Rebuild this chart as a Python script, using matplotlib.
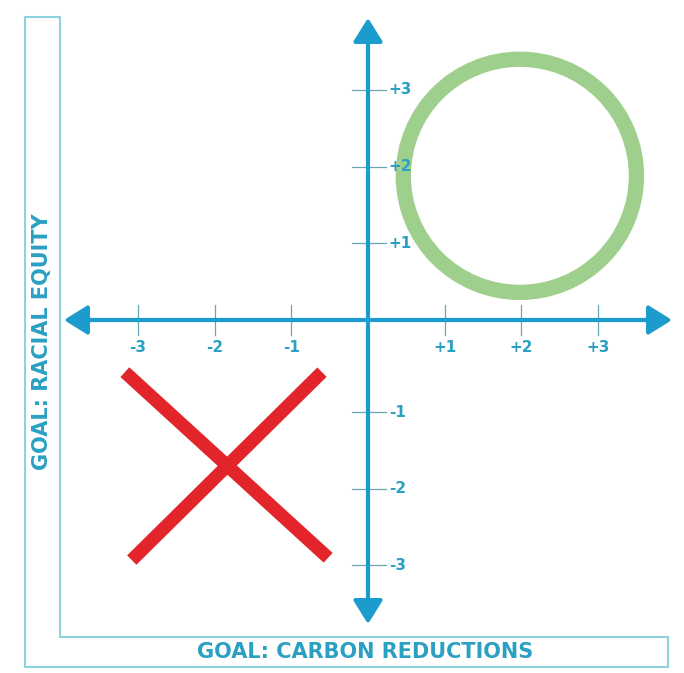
import matplotlib.pyplot as plt
from matplotlib.lines import Line2D

# values (axis units)
xtick_pos = [-3, -2, -1, 1, 2, 3]
xtick_labels = ["-3", "-2", "-1", "+1", "+2", "+3"]
ytick_pos = [3, 2, 1, -1.2, -2.2, -3.2]
ytick_labels = ["+3", "+2", "+1", "-1", "-2", "-3"]

circle_center = (1.98, 1.88)
circle_radius = 1.52

cross_a_x = [-3.17, -0.52]
cross_a_y = [-0.68, -3.1]
cross_b_x = [-0.6, -3.08]
cross_b_y = [-0.68, -3.13]

x_title = "GOAL: CARBON REDUCTIONS"
y_title = "GOAL: RACIAL EQUITY"

W, H = 684, 673
unit = 76.7          # pixels per unit
ox, oy = 368, 320    # origin in pixels

blue = "#1b9ccc"
text_col = "#2aa0c2"
frame_col = "#8dd2df"
tick_col = "#6aa6b4"
red = "#e2252b"
green = "#9fcf8d"
font = ["Liberation Sans Narrow", "DejaVu Sans"]

fig = plt.figure(figsize=(W / 100, H / 100), dpi=100)
ax = fig.add_axes([0, 0, 1, 1])
ax.set_xlim(-ox / unit, (W - ox) / unit)
ax.set_ylim(-(H - oy) / unit, oy / unit)
ax.axis("off")

# L-shaped frame (pixels)
fx = [25, 60, 60, 668, 668, 25, 25]
fy = [17, 17, 637, 637, 667, 667, 17]
fig.add_artist(Line2D([v / W for v in fx], [1 - v / H for v in fy],
                      transform=fig.transFigure, color=frame_col, lw=1.5))

# axes with arrow heads
arrow = dict(arrowstyle="<|-|>,head_length=0.72,head_width=0.45",
             mutation_scale=20, lw=3, color=blue, shrinkA=0, shrinkB=0)
ax.annotate("", xy=((64 - ox) / unit, 0), xytext=((672 - ox) / unit, 0), arrowprops=arrow)
ax.annotate("", xy=(0, (oy - 18) / unit), xytext=(0, (oy - 624) / unit), arrowprops=arrow)

# ticks
for xp, lab in zip(xtick_pos, xtick_labels):
    ax.plot([xp, xp], [-0.2, 0.2], color=tick_col, lw=0.9, zorder=1)
    ax.text(xp, -0.36, lab, ha="center", va="center", fontsize=11,
            color=text_col, family=font, fontweight="bold", zorder=5)
for yp, lab in zip(ytick_pos, ytick_labels):
    ax.plot([-0.21, 0.24], [yp, yp], color=tick_col, lw=0.9, zorder=1)
    ax.text(0.27, yp, lab, ha="left", va="center", fontsize=11,
            color=text_col, family=font, fontweight="bold", zorder=5)

# green circle
ring = plt.Circle(circle_center, circle_radius, fill=False, ec=green, lw=11, zorder=3)
ax.add_patch(ring)

# red cross
ax.plot(cross_a_x, cross_a_y, color=red, lw=9.5, solid_capstyle="butt", zorder=3)
ax.plot(cross_b_x, cross_b_y, color=red, lw=9.5, solid_capstyle="butt", zorder=3)

# goal titles
fig.text(365 / W, 1 - 652 / H, x_title, ha="center", va="center", fontsize=15,
         color=text_col, family=font, fontweight="bold")
fig.text(42 / W, 1 - 342 / H, y_title, ha="center", va="center", fontsize=15,
         rotation=90, color=text_col, family=font, fontweight="bold")

fig.savefig("out.png", dpi=100)
